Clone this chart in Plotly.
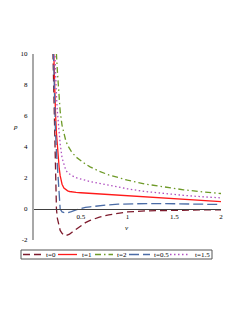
import plotly.graph_objects as go

# ---------------- data ----------------
v = [0.20, 0.21, 0.22, 0.23, 0.24, 0.25, 0.26, 0.27, 0.28, 0.30, 0.32, 0.34, 0.36,
     0.38, 0.40, 0.45, 0.50, 0.55, 0.60, 0.65, 0.70, 0.80, 0.90, 1.00, 1.20, 1.40,
     1.60, 1.80, 2.00]

p_t0 = [10.8, 8.2, 5.4, 2.4, 0.0, -0.6, -0.95, -1.2, -1.38, -1.57, -1.68, -1.72, -1.69,
        -1.62, -1.53, -1.30, -1.05, -0.88, -0.74, -0.63, -0.52, -0.38, -0.27, -0.19,
        -0.12, -0.09, -0.07, -0.06, -0.05]
p_t05 = [12.0, 9.0, 6.6, 4.9, 3.7, 2.7, 1.7, 0.8, 0.0, -0.19, -0.25, -0.26, -0.24,
         -0.21, -0.17, -0.05, 0.04, 0.10, 0.14, 0.18, 0.21, 0.27, 0.31, 0.33,
         0.35, 0.35, 0.34, 0.32, 0.29]
p_t1 = [12.5, 10.0, 7.8, 6.2, 4.9, 3.9, 3.2, 2.6, 2.15, 1.6, 1.35, 1.24, 1.17,
        1.13, 1.10, 1.07, 1.05, 1.03, 1.02, 1.00, 0.98, 0.94, 0.90, 0.86,
        0.77, 0.69, 0.61, 0.54, 0.47]
p_t15 = [14.0, 12.0, 10.2, 8.6, 7.3, 6.3, 5.5, 4.8, 4.2, 3.3, 2.8, 2.5, 2.35,
         2.25, 2.17, 2.02, 1.92, 1.84, 1.77, 1.71, 1.65, 1.52, 1.41, 1.30,
         1.12, 0.98, 0.88, 0.79, 0.72]
p_t2 = [17.0, 15.0, 13.0, 11.4, 10.0, 8.9, 7.9, 7.0, 6.3, 5.4, 4.8, 4.4, 4.1,
        3.85, 3.7, 3.35, 3.1, 2.9, 2.72, 2.56, 2.43, 2.2, 2.02, 1.86,
        1.6, 1.4, 1.24, 1.11, 1.0]

labels = ["t=0", "t=1", "t=2", "t=0.5", "t=1.5"]
x_ticks = [0.5, 1, 1.5, 2]
x_tick_text = ["0.5", "1", "1.5", "2"]
y_ticks = [-2, 0, 2, 4, 6, 8, 10]
y_tick_text = ["-2", "0", "2", "4", "6", "8", "10"]

# ---------------- styling ----------------
series = [p_t0, p_t1, p_t2, p_t05, p_t15]
colors = ["#7d1a2c", "#ff1a1a", "#6e9a28", "#4b6ca6", "#b050c0"]
dashes = ["7px,4px", "solid", "6px,3px,1.5px,3px", "10px,4px", "1.5px,2.5px"]

FONT = "Liberation Serif"
OFF = 8                      # default page margin of the html body
W, H = 240 - OFF, 310 - OFF
# target pixel positions (screen): v=0 -> x 34, v=2 -> x 221, p=10 -> y 54, p=-2 -> y 240
ML, MR, MT, MB = 34 - OFF, 240 - 221, 54 - OFF, 310 - 240
PW, PH = W - ML - MR, H - MT - MB


def px2paper(x, y):
    return (x - OFF - ML) / PW, (H - MB - (y - OFF)) / PH


fig = go.Figure()
for lab, ys, c, d in zip(labels, series, colors, dashes):
    fig.add_trace(go.Scatter(x=v, y=ys, mode="lines", name=lab,
                             line=dict(color=c, width=1.3, dash=d),
                             showlegend=False))

# manual legend (Maple style: one boxed row under the plot)
bx0, by1 = px2paper(21, 250)
bx1, by0 = px2paper(212, 259)
fig.add_shape(type="rect", xref="paper", yref="paper", x0=bx0, x1=bx1, y0=by0, y1=by1,
              line=dict(color="#555555", width=1), fillcolor="rgba(0,0,0,0)")
sample_px = [(23, 42, 44), (58, 77, 80), (95, 113, 115), (129, 150, 152), (170, 190, 193)]
for (sx0, sx1, tx), lab, c, d in zip(sample_px, labels, colors, dashes):
    a0, yy = px2paper(sx0, 254.5)
    a1, _ = px2paper(sx1, 254.5)
    fig.add_shape(type="line", xref="paper", yref="paper", x0=a0, x1=a1, y0=yy, y1=yy,
                  line=dict(color=c, width=1.3, dash=d))
    t0, _ = px2paper(tx, 254.5)
    fig.add_annotation(xref="paper", yref="paper", x=t0, y=yy, text=lab, showarrow=False,
                       xanchor="left", yanchor="middle",
                       font=dict(family=FONT, size=7, color="#000"))

# axis labels
lx, ly = px2paper(15, 127)
fig.add_annotation(xref="paper", yref="paper", x=lx, y=ly, text="<i>p</i>", showarrow=False,
                   xanchor="center", yanchor="middle", font=dict(family=FONT, size=7, color="#000"))
vx, vy = px2paper(127, 228)
fig.add_annotation(xref="paper", yref="paper", x=vx, y=vy, text="<i>v</i>", showarrow=False,
                   xanchor="center", yanchor="middle", font=dict(family=FONT, size=7, color="#000"))

fig.update_layout(
    width=W, height=H,
    margin=dict(l=ML, r=MR, t=MT, b=MB, autoexpand=False),
    paper_bgcolor="white", plot_bgcolor="white",
    showlegend=False,
    xaxis=dict(range=[0, 2], tickvals=x_ticks, ticktext=x_tick_text,
               showgrid=False, zeroline=False, showline=True, linecolor="#404040", linewidth=1,
               anchor="free", position=2 / 12, ticks="", ticklabelstandoff=1,
               tickfont=dict(family=FONT, size=7, color="#000")),
    yaxis=dict(range=[-2, 10], tickvals=y_ticks, ticktext=y_tick_text,
               showgrid=False, zeroline=False, showline=True, linecolor="#a8a8a8", linewidth=2,
               ticks="", ticklabelstandoff=3,
               tickfont=dict(family=FONT, size=7, color="#000")),
)

fig.write_html("out.html")
